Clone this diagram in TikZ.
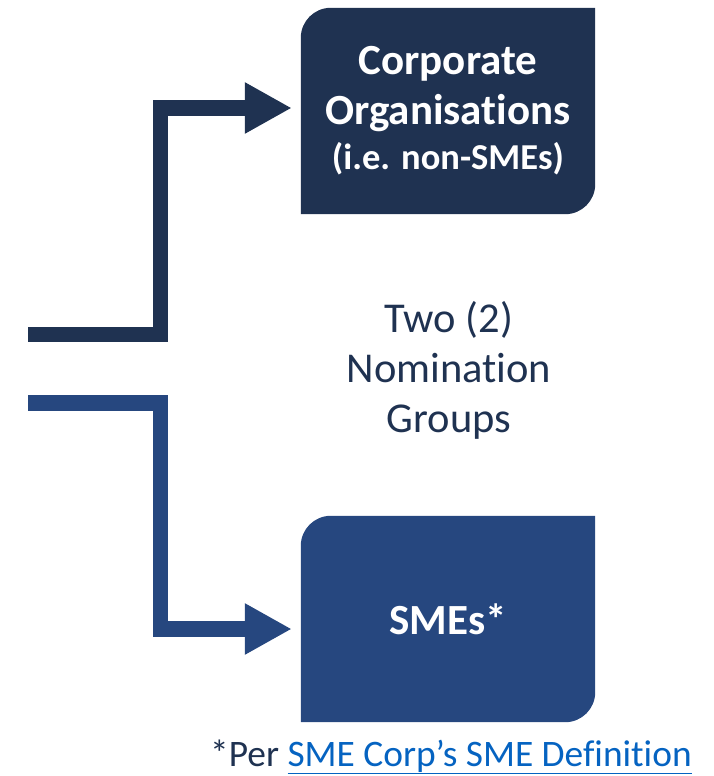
\documentclass[tikz,border=0pt]{standalone}
\usepackage{fontspec}
\setmainfont{Carlito}[Ligatures=NoCommon]
\usetikzlibrary{arrows.meta,positioning,backgrounds,calc}
\definecolor{navy}{HTML}{1F3251}
\definecolor{smeblue}{HTML}{26477F}
\definecolor{linkblue}{HTML}{0563C1}
\tikzset{
  group/.style={text=white, align=center, inner sep=0pt, minimum width=294pt, minimum height=206pt,
    font=\bfseries\fontsize{43}{50}\selectfont},
  arrow/.style={-{Triangle[length=47pt,width=48pt]}, line width=15.5pt, shorten >=9pt},
  mid/.style={text=navy, align=center, font=\fontsize{42.5}{50}\selectfont},
  note/.style={text=navy, font=\fontsize{37.4}{40}\selectfont},
}
\newcommand{\leafshape}[2]{%
  \fill[#2] (#1.south west) [rounded corners=30pt] -- (#1.north west) [sharp corners]
    -- (#1.north east) [rounded corners=30pt] -- (#1.south east) [sharp corners] -- cycle;}

\begin{document}
\begin{tikzpicture}[x=1pt, y=-1pt]
  \useasboundingbox (0,0) rectangle (714,776);

  \node[group] (corp) at (448,111) {Corporate\\Organisations\\[-5pt]{\fontsize{36.5}{43}\selectfont(i.e. non-SMEs)}};
  \node[group] (sme) at (448,619) {SMEs*};
  \begin{scope}[on background layer]
    \leafshape{corp}{navy}
    \leafshape{sme}{smeblue}
  \end{scope}

  \node[mid] (groups) at (449,370) {Two (2)\\Nomination\\Groups};

  \coordinate (topin) at (28,334.5);
  \coordinate (botin) at (28,403);
  \draw[arrow, navy] (topin) -- ++(132.5,0) |- ([yshift=3pt]corp.west);
  \draw[arrow, smeblue] (botin) -- ++(132.5,0) |- ([yshift=-10pt]sme.west);

  \node[note] (fn) at (451,757) {*Per {\color{linkblue}\underline{SME Corp’s SME Definition}}};
\end{tikzpicture}
\end{document}
